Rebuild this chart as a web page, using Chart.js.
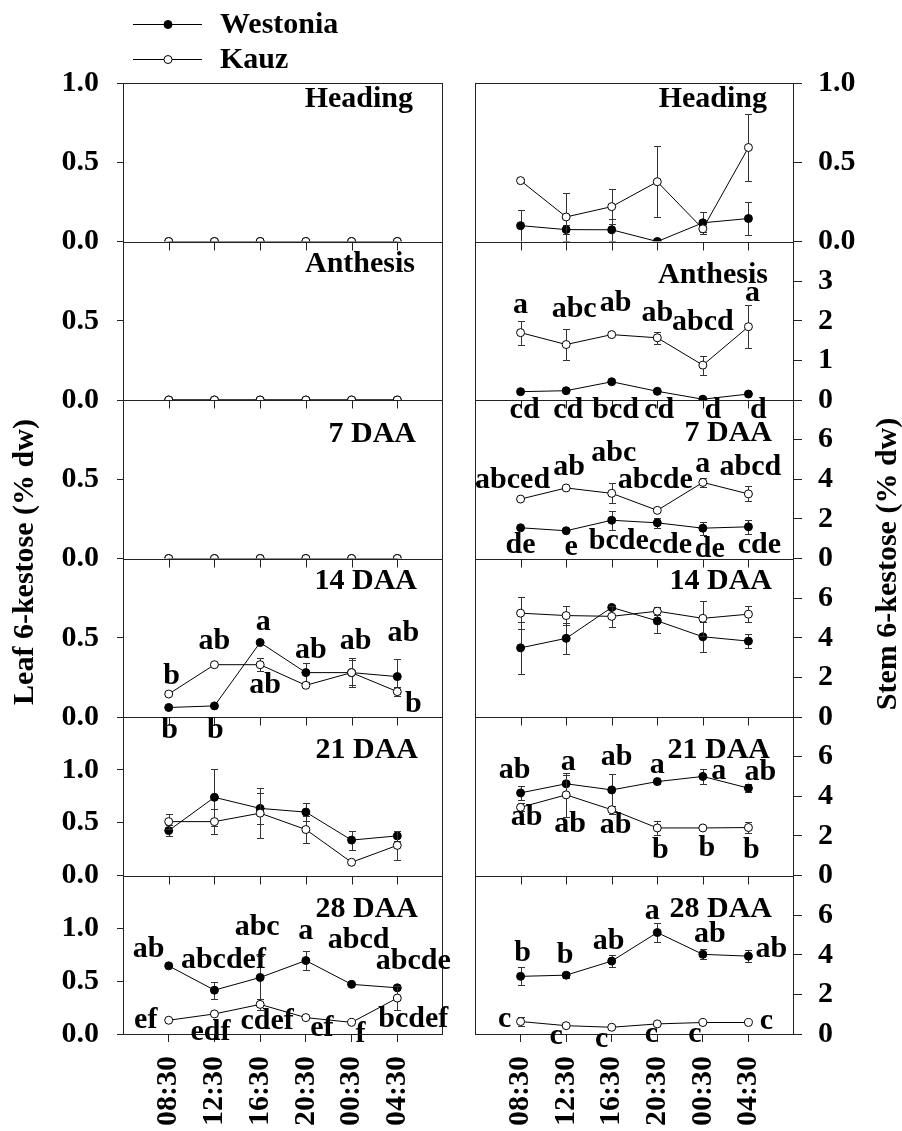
<!DOCTYPE html>
<html>
<head>
<meta charset="utf-8">
<title>6-kestose in leaf and stem</title>
<script src="https://cdn.jsdelivr.net/npm/chart.js@4.4.1/dist/chart.umd.min.js"></script>
<style>
  html, body { margin: 0; padding: 0; background: #fff; }
  #wrap { position: relative; width: 902px; height: 1131px; }
  #wrap canvas { position: absolute; left: 0; top: 0; }
</style>
</head>
<body>
<div id="wrap">
  <canvas id="leafChart" width="902" height="1131"></canvas>
  <canvas id="stemChart" width="902" height="1131"></canvas>
</div>
<script>
const times = ['08:30', '12:30', '16:30', '20:30', '00:30', '04:30'];
const stages = ['Heading', 'Anthesis', '7 DAA', '14 DAA', '21 DAA', '28 DAA'];

// Leaf 6-kestose (% dw), Westonia (W) and Kauz (K), with error bars
const leafHeadingW = [0, 0, 0, 0, 0, 0];
const leafHeadingK = [0, 0, 0, 0, 0, 0];
const leafAnthesisW = [0, 0, 0, 0, 0, 0];
const leafAnthesisK = [0, 0, 0, 0, 0, 0];
const leaf7W = [0, 0, 0, 0, 0, 0];
const leaf7K = [0, 0, 0, 0, 0, 0];
const leaf14W = [0.06, 0.07, 0.47, 0.28, 0.28, 0.255];
const leaf14K = [0.145, 0.33, 0.33, 0.20, 0.28, 0.16];
const leaf21W = [0.425, 0.74, 0.635, 0.60, 0.335, 0.375];
const leaf21K = [0.51, 0.51, 0.59, 0.435, 0.125, 0.285];
const leaf28W = [0.645, 0.415, 0.535, 0.695, 0.47, 0.437];
const leaf28K = [0.13, 0.19, 0.28, 0.155, 0.11, 0.34];

const zeroErr = [0, 0, 0, 0, 0, 0];
const leaf14WErr = [0, 0, 0, 0.06, 0.09, 0.11];
const leaf14KErr = [0, 0, 0.04, 0, 0.08, 0.03];
const leaf21WErr = [0.05, 0.27, 0.15, 0.085, 0.09, 0.045];
const leaf21KErr = [0.07, 0.12, 0.235, 0.125, 0, 0.135];
const leaf28WErr = [0, 0.08, 0.2, 0.09, 0, 0];
const leaf28KErr = [0, 0, 0.05, 0, 0, 0.115];

// Stem 6-kestose (% dw)
const stemHeadingW = [0.10, 0.075, 0.074, 0.0, 0.118, 0.145];
const stemHeadingK = [0.384, 0.155, 0.22, 0.377, 0.08, 0.593];
const stemAnthesisW = [0.21, 0.235, 0.46, 0.22, 0.02, 0.15];
const stemAnthesisK = [1.70, 1.40, 1.65, 1.57, 0.88, 1.85];
const stem7W = [1.55, 1.40, 1.93, 1.80, 1.53, 1.60];
const stem7K = [3.0, 3.56, 3.29, 2.43, 3.84, 3.26];
const stem14W = [3.49, 3.97, 5.53, 4.85, 4.05, 3.83];
const stem14K = [5.24, 5.12, 5.08, 5.34, 4.98, 5.19];
const stem21W = [4.17, 4.63, 4.32, 4.74, 5.0, 4.41];
const stem21K = [3.44, 4.07, 3.32, 2.40, 2.40, 2.42];
const stem28W = [2.91, 2.97, 3.68, 5.12, 4.02, 3.93];
const stem28K = [0.63, 0.42, 0.34, 0.51, 0.58, 0.58];

const stemHeadingWErr = [0.10, 0.03, 0.07, 0, 0.07, 0.105];
const stemHeadingKErr = [0.01, 0.15, 0.11, 0.225, 0.02, 0.21];
const stemAnthesisKErr = [0.3, 0.39, 0, 0.15, 0.24, 0.55];
const stem7WErr = [0, 0, 0.49, 0.25, 0.33, 0.36];
const stem7KErr = [0, 0, 0.5, 0, 0.23, 0.38];
const stem14WErr = [1.3, 0.78, 0.1, 0.6, 0.76, 0.36];
const stem14KErr = [0.8, 0.5, 0.52, 0.2, 0.88, 0.39];
const stem21WErr = [0.37, 0.42, 0.82, 0.1, 0.39, 0.2];
const stem21KErr = [0.2, 1.1, 0.2, 0.36, 0, 0.3];
const stem28WErr = [0.46, 0.15, 0.3, 0.47, 0.25, 0.3];
const stem28KErr = [0.25, 0, 0, 0, 0, 0];

// significance letters
const leaf14Up = ['b', 'ab', 'a', 'ab', 'ab', 'ab'];
const leaf14Dn = ['b', 'b', 'ab', '', '', 'b'];
const leaf28Up = ['ab', 'abcdef', 'abc', 'a', 'abcd', 'abcde'];
const leaf28Dn = ['ef', 'edf', 'cdef', 'ef', 'f', 'bcdef'];
const stemAnthesisUp = ['a', 'abc', 'ab', 'ab', 'abcd', 'a'];
const stemAnthesisDn = ['cd', 'cd', 'bcd', 'cd', 'd', 'd'];
const stem7Up = ['abced', 'ab', 'abc', 'abcde', 'a', 'abcd'];
const stem7Dn = ['de', 'e', 'bcde', 'cde', 'de', 'cde'];
const stem21Up = ['ab', 'a', 'ab', 'a', 'a', 'ab'];
const stem21Dn = ['ab', 'ab', 'ab', 'b', 'b', 'b'];
const stem28Up = ['b', 'b', 'ab', 'a', 'ab', 'ab'];
const stem28Dn = ['c', 'c', 'c', 'c', 'c', 'c'];

// where the letters sit: [x shift in px, y in panel units]
const leaf14UpAt = [[3, 0.255], [0, 0.48], [3, 0.60], [5, 0.424], [4, 0.477], [6, 0.53]];
const leaf14DnAt = [[1, -0.082], [1, -0.082], [5, 0.198], null, null, [16, 0.08]];
const leaf28UpAt = [[-20, 0.80], [9, 0.70], [-3, 1.01], [0, 0.97], [7, 0.887], [16, 0.69]];
const leaf28DnAt = [[-23, 0.132], [-4, 0.012], [7, 0.116], [16, 0.053], [9, 0.0], [16, 0.14]];
const stemAnthesisUpAt = [[0, 2.39], [8, 2.28], [4, 2.43], [0, 2.2], [0, 1.97], [4, 2.69]];
const stemAnthesisDnAt = [[4, -0.27], [2, -0.27], [4, -0.27], [2, -0.27], [10, -0.27], [10, -0.27]];
const stem7UpAt = [[-8, 3.95], [3, 4.63], [2, 5.3], [-2, 3.95], [0, 4.74], [2, 4.6]];
const stem7DnAt = [[0, 0.67], [5, 0.59], [7, 0.87], [13, 0.67], [7, 0.45], [11, 0.67]];
const stem21UpAt = [[-6, 5.3], [2, 5.73], [5, 5.97], [0, 5.58], [16, 5.24], [12, 5.22]];
const stem21DnAt = [[6, 2.93], [4, 2.58], [4, 2.56], [3, 1.29], [4, 1.37], [3, 1.29]];
const stem28UpAt = [[2, 4.08], [-1, 3.97], [-3, 4.69], [-5, 6.22], [7, 5.03], [23, 4.27]];
const stem28DnAt = [[-16, 0.76], [-10, -0.09], [-10, -0.25], [-6, 0], [-8, 0], [18, 0.63]];

const fontFamily = '"Liberation Serif", "Times New Roman", serif';
const ink = '#000';
const frameColor = '#222';

Chart.defaults.font.family = fontFamily;
Chart.defaults.font.size = 30;
Chart.defaults.font.weight = 'bold';
Chart.defaults.color = ink;

const fix1 = (v) => v.toFixed(1);
const whole = (v) => String(v);
const pts = (vals) => vals.map((v, i) => ({ x: i + 1, y: v }));

const leafCol = {
  side: 'left',
  padding: { left: 0, right: 459, top: 83, bottom: 0 },
  axisWidth: 123,
  w: [leafHeadingW, leafAnthesisW, leaf7W, leaf14W, leaf21W, leaf28W],
  k: [leafHeadingK, leafAnthesisK, leaf7K, leaf14K, leaf21K, leaf28K],
  wErr: [zeroErr, zeroErr, zeroErr, leaf14WErr, leaf21WErr, leaf28WErr],
  kErr: [zeroErr, zeroErr, zeroErr, leaf14KErr, leaf21KErr, leaf28KErr],
  max: [1, 1, 1, 1, 1.5, 1.5],
  step: [0.5, 0.5, 0.5, 0.5, 0.5, 0.5],
  fmt: [fix1, fix1, fix1, fix1, fix1, fix1],
  showTop: [true, false, false, false, false, false],
  notes: [[], [], [], [[leaf14Up, leaf14UpAt], [leaf14Dn, leaf14DnAt]], [],
          [[leaf28Up, leaf28UpAt], [leaf28Dn, leaf28DnAt]]],
  titleDx: [-30, -28, -27, -26, -25, -25],
  titleDy: [24, 30, 42, 30, 41, 41],
  axisTitle: 'Leaf 6-kestose (% dw)',
  axisTitleAt: [25, 562],
  legend: true
};

const stemCol = {
  side: 'right',
  padding: { left: 475, right: 0, top: 83, bottom: 0 },
  axisWidth: 108,
  w: [stemHeadingW, stemAnthesisW, stem7W, stem14W, stem21W, stem28W],
  k: [stemHeadingK, stemAnthesisK, stem7K, stem14K, stem21K, stem28K],
  wErr: [stemHeadingWErr, zeroErr, stem7WErr, stem14WErr, stem21WErr, stem28WErr],
  kErr: [stemHeadingKErr, stemAnthesisKErr, stem7KErr, stem14KErr, stem21KErr, stem28KErr],
  max: [1, 4, 8, 8, 8, 8],
  step: [0.5, 1, 2, 2, 2, 2],
  fmt: [fix1, whole, whole, whole, whole, whole],
  showTop: [true, false, false, false, false, false],
  notes: [[], [[stemAnthesisUp, stemAnthesisUpAt], [stemAnthesisDn, stemAnthesisDnAt]],
          [[stem7Up, stem7UpAt], [stem7Dn, stem7DnAt]], [],
          [[stem21Up, stem21UpAt], [stem21Dn, stem21DnAt]],
          [[stem28Up, stem28UpAt], [stem28Dn, stem28DnAt]]],
  titleDx: [-27, -26, -22, -22, -24, -22],
  titleDy: [24, 41, 41, 30, 41, 41],
  axisTitle: 'Stem 6-kestose (% dw)',
  axisTitleAt: [888, 564],
  legend: false
};

const drawMarker = (ctx, x, y, filled) => {
  ctx.beginPath();
  ctx.arc(x, y, 4, 0, Math.PI * 2);
  ctx.fillStyle = filled ? ink : '#fff';
  ctx.fill();
  ctx.lineWidth = 1;
  ctx.strokeStyle = ink;
  ctx.stroke();
};

const panelPlugin = (col) => ({
  id: 'panels' + col.side,
  beforeDatasetDraw(chart, args) {
    const { ctx, chartArea } = chart;
    const meta = args.meta;
    const ys = chart.scales[meta.yAxisID];
    const ds = chart.data.datasets[args.index];
    ctx.save();
    ctx.beginPath();
    ctx.rect(chartArea.left, ys.top, chartArea.right - chartArea.left, ys.bottom - ys.top);
    ctx.clip();
    ctx.strokeStyle = '#333';
    ctx.lineWidth = 1;
    ds.errors.forEach((e, i) => {
      if (!e) return;
      const x = Math.round(meta.data[i].x) + 0.5;
      const v = ds.data[i].y;
      const top = Math.round(ys.getPixelForValue(v + e)) + 0.5;
      const bot = Math.round(ys.getPixelForValue(v - e)) + 0.5;
      ctx.beginPath();
      ctx.moveTo(x, top); ctx.lineTo(x, bot);
      ctx.moveTo(x - 3.5, top); ctx.lineTo(x + 3.5, top);
      ctx.moveTo(x - 3.5, bot); ctx.lineTo(x + 3.5, bot);
      ctx.stroke();
    });
  },
  afterDatasetDraw(chart) {
    chart.ctx.restore();
  },
  afterDraw(chart) {
    const { ctx, chartArea: a } = chart;
    const xs = chart.scales.x;
    const L = Math.round(a.left) + 0.5;
    const R = Math.round(a.right) - 0.5;
    ctx.save();
    ctx.strokeStyle = frameColor;
    ctx.lineWidth = 1;
    ctx.strokeRect(L, Math.round(a.top) + 0.5, R - L, Math.round(a.bottom) - Math.round(a.top));

    stages.forEach((stage, i) => {
      const ys = chart.scales['y' + i];
      const yb = Math.round(ys.bottom) + 0.5;
      if (i < stages.length - 1) {
        ctx.beginPath();
        ctx.moveTo(L, yb); ctx.lineTo(R, yb);
        xs.ticks.forEach((t) => {
          const x = Math.round(xs.getPixelForValue(t.value)) + 0.5;
          ctx.moveTo(x, yb); ctx.lineTo(x, yb + 8);
        });
        ctx.stroke();
      }

      ctx.fillStyle = ink;
      ctx.font = 'bold 30px ' + fontFamily;
      ctx.textAlign = 'right';
      ctx.textBaseline = 'alphabetic';
      ctx.fillText(stage, a.right + col.titleDx[i], ys.top + col.titleDy[i]);

      ctx.textAlign = 'center';
      ctx.textBaseline = 'middle';
      col.notes[i].forEach(([texts, spots]) => {
        texts.forEach((txt, j) => {
          if (!txt || !spots[j]) return;
          const x = xs.getPixelForValue(j + 1) + spots[j][0];
          const y = ys.getPixelForValue(spots[j][1]);
          ctx.fillText(txt, x, y);
        });
      });
    });

    // axis title
    ctx.save();
    ctx.translate(col.axisTitleAt[0], col.axisTitleAt[1]);
    ctx.rotate(-Math.PI / 2);
    ctx.textAlign = 'center';
    ctx.textBaseline = 'middle';
    ctx.fillText(col.axisTitle, 0, 0);
    ctx.restore();

    if (col.legend) {
      const rows = [['Westonia', true, 24], ['Kauz', false, 59]];
      rows.forEach(([name, filled, y]) => {
        ctx.beginPath();
        ctx.strokeStyle = ink;
        ctx.moveTo(133, y + 0.5); ctx.lineTo(202, y + 0.5);
        ctx.stroke();
        drawMarker(ctx, 168, y + 0.5, filled);
        ctx.fillStyle = ink;
        ctx.textAlign = 'left';
        ctx.textBaseline = 'middle';
        ctx.fillText(name, 220, y + 1);
      });
    }
    ctx.restore();
  }
});

const buildChart = (canvasId, col) => {
  const scales = {
    x: {
      type: 'linear',
      position: 'bottom',
      min: 0,
      max: 7,
      afterBuildTicks: (s) => { s.ticks = times.map((t, i) => ({ value: i + 1 })); },
      ticks: {
        autoSkip: false,
        minRotation: 90,
        maxRotation: 90,
        padding: 14,
        callback: (v) => times[v - 1] || ''
      },
      grid: { drawOnChartArea: false, drawTicks: true, tickLength: 8, color: frameColor },
      border: { display: false },
      afterFit: (s) => { s.height = 97; }
    }
  };
  const datasets = [];
  stages.forEach((stage, i) => {
    const id = 'y' + i;
    const max = col.max[i];
    const step = col.step[i];
    scales[id] = {
      type: 'linear',
      position: col.side,
      stack: col.side,
      stackWeight: 1,
      weight: col.side === 'left' ? stages.length - i : i,
      min: 0,
      max: max,
      afterBuildTicks: (s) => {
        const list = [];
        for (let v = 0; v <= max + 1e-9; v += step) list.push({ value: +v.toFixed(2) });
        s.ticks = list;
      },
      ticks: {
        autoSkip: false,
        padding: col.side === 'left' ? 18 : 16,
        callback: (v) => (v >= max && !col.showTop[i]) ? '' : col.fmt[i](v)
      },
      grid: { drawOnChartArea: false, drawTicks: true, tickLength: col.side === 'left' ? 6 : 8, color: frameColor },
      border: { display: false },
      afterFit: (s) => { s.width = col.axisWidth; }
    };
    const common = {
      yAxisID: id,
      borderColor: ink,
      borderWidth: 1,
      pointRadius: 4,
      pointBorderWidth: 1,
      pointBorderColor: ink,
      tension: 0
    };
    datasets.push(Object.assign({ label: 'Westonia', data: pts(col.w[i]), errors: col.wErr[i],
      pointBackgroundColor: ink, order: 1 }, common));
    datasets.push(Object.assign({ label: 'Kauz', data: pts(col.k[i]), errors: col.kErr[i],
      pointBackgroundColor: '#fff', order: 0 }, common));
  });

  return new Chart(document.getElementById(canvasId).getContext('2d'), {
    type: 'line',
    data: { datasets },
    options: {
      responsive: false,
      animation: false,
      events: [],
      layout: { padding: col.padding },
      scales,
      plugins: { legend: { display: false }, tooltip: { enabled: false } }
    },
    plugins: [panelPlugin(col)]
  });
};

const charts = {
  leaf: buildChart('leafChart', leafCol),
  stem: buildChart('stemChart', stemCol)
};
</script>
</body>
</html>
